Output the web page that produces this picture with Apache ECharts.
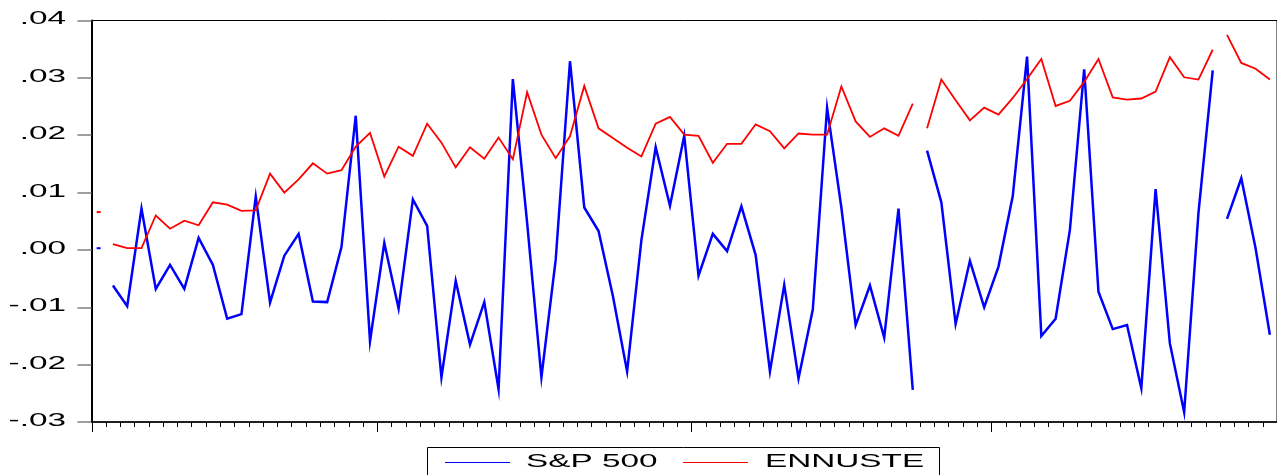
<!DOCTYPE html>
<html>
<head>
<meta charset="utf-8">
<script src="https://cdn.jsdelivr.net/npm/echarts@6/dist/echarts.min.js"></script>
<style>
  html, body { margin: 0; padding: 0; background: #ffffff; }
  #chart { width: 1277px; height: 475px; }
</style>
</head>
<body>
<div id="chart"></div>
<script>
// Observation index (the axis carries no labels, only tick marks)
const categories = Array.from({ length: 83 }, (_, i) => String(i + 1));

// S&P 500 returns
const sp500 = [
  0.0003, -0.0062, -0.0098, 0.0072, -0.0068, -0.0026, -0.0068, 0.0021, -0.0026, -0.0120,
  -0.0112, 0.0093, -0.0092, -0.0010, 0.0028, -0.0090, -0.0091, 0.0005, 0.0234, -0.0159,
  0.0012, -0.0102, 0.0088, 0.0042, -0.0222, -0.0054, -0.0165, -0.0091, -0.0243, 0.0298,
  0.0047, -0.0222, -0.0017, 0.0329, 0.0074, 0.0033, -0.0080, -0.0212, 0.0017, 0.0179,
  0.0077, 0.0199, -0.0045, 0.0028, -0.0002, 0.0076, -0.0009, -0.0212, -0.0061, -0.0224,
  -0.0104, 0.0248, 0.0074, -0.0131, -0.0062, -0.0153, 0.0072, -0.0244, 0.0173, 0.0083,
  -0.0129, -0.0019, -0.0100, -0.0029, 0.0094, 0.0337, -0.0150, -0.0120, 0.0035, 0.0315,
  -0.0073, -0.0138, -0.0131, -0.0241, 0.0106, -0.0163, -0.0283, 0.0064, 0.0313, 0.0054,
  0.0125, 0.0003, -0.0148
];

// Forecast (ENNUSTE)
const ennuste = [
  0.0066, 0.0010, 0.0003, 0.0003, 0.0060, 0.0037, 0.0051, 0.0043, 0.0083, 0.0079,
  0.0068, 0.0069, 0.0133, 0.0100, 0.0123, 0.0151, 0.0133, 0.0139, 0.0180, 0.0204,
  0.0128, 0.0180, 0.0164, 0.0220, 0.0187, 0.0144, 0.0179, 0.0159, 0.0196, 0.0158,
  0.0275, 0.0201, 0.0160, 0.0198, 0.0286, 0.0212, 0.0195, 0.0178, 0.0163, 0.0220,
  0.0232, 0.0201, 0.0199, 0.0152, 0.0185, 0.0185, 0.0219, 0.0207, 0.0177, 0.0203,
  0.0201, 0.0201, 0.0285, 0.0224, 0.0197, 0.0212, 0.0199, 0.0255, 0.0212, 0.0297,
  0.0261, 0.0226, 0.0248, 0.0236, 0.0265, 0.0298, 0.0333, 0.0251, 0.0260, 0.0293,
  0.0333, 0.0266, 0.0262, 0.0264, 0.0276, 0.0336, 0.0301, 0.0297, 0.0349, 0.0375,
  0.0326, 0.0316, 0.0297
];

// The sample is split into separate runs; lines are not joined across runs
const segmentStarts = [0, 1, 58, 79];

// Observations whose left boundary gets a long tick on the time axis
const majorTicks = [0, 20, 42, 63];

// Value axis ticks and their labels
const yTickValues = [0.04, 0.03, 0.02, 0.01, 0.00, -0.01, -0.02, -0.03];
const yTickLabels = ['.04', '.03', '.02', '.01', '.00', '-.01', '-.02', '-.03'];

const seriesNames = ['S&P 500', 'ENNUSTE'];
const seriesColors = ['#0000ff', '#ff0000'];

const LABEL_FONT = '18px "Liberation Sans", Arial, sans-serif';
const STRETCH = 1.85;

function segmentSeries(name, values, color, width, z) {
  return segmentStarts.map((start, k) => {
    const end = k + 1 < segmentStarts.length ? segmentStarts[k + 1] : values.length;
    const single = end - start === 1;
    return {
      name: name,
      type: 'line',
      data: values.map((v, i) => (i >= start && i < end ? v : null)),
      connectNulls: false,
      showSymbol: single,
      showAllSymbol: true,
      symbol: 'rect',
      symbolSize: [4, 2],
      itemStyle: { color: color },
      lineStyle: { color: color, width: width, join: 'miter' },
      silent: true,
      animation: false,
      z: z
    };
  });
}

const chart = echarts.init(document.getElementById('chart'), null, { renderer: 'canvas' });

const option = {
  backgroundColor: '#ffffff',
  animation: false,
  grid: {
    left: 91.5,
    top: 20.5,
    width: 1187,
    height: 401.5,
    show: true,
    borderColor: '#000000',
    borderWidth: 1,
    backgroundColor: 'transparent'
  },
  xAxis: {
    type: 'category',
    data: categories,
    boundaryGap: true,
    position: 'bottom',
    axisLine: { show: true, onZero: false, lineStyle: { color: '#000000', width: 1.5 } },
    axisTick: { show: false },
    axisLabel: { show: false },
    splitLine: { show: false }
  },
  yAxis: {
    type: 'value',
    min: -0.03,
    max: 0.04,
    interval: 0.01,
    axisLine: { show: true, onZero: false, lineStyle: { color: '#000000', width: 2 } },
    axisTick: { show: true, length: 14, lineStyle: { color: '#808080', width: 1.5 } },
    axisLabel: { show: false },
    splitLine: { show: false }
  },
  series: [
    ...segmentSeries(seriesNames[0], sp500, seriesColors[0], 2.5, 2),
    ...segmentSeries(seriesNames[1], ennuste, seriesColors[1], 1.8, 3)
  ]
};

chart.setOption(option);

// Pixel position of the boundary on the left of category i, taken from the axis scale
const step = chart.convertToPixel({ xAxisIndex: 0 }, 1) - chart.convertToPixel({ xAxisIndex: 0 }, 0);
function leftBoundary(i) {
  return chart.convertToPixel({ xAxisIndex: 0 }, 0) + (i - 0.5) * step;
}
const axisBottom = chart.convertToPixel({ yAxisIndex: 0 }, -0.03);

// Time axis ticks: a short tick at every boundary, a longer one at the marked observations
const tickGraphics = [];
for (let i = 0; i <= categories.length; i++) {
  const x = Math.round(leftBoundary(i)) + 0.5;
  const len = majorTicks.includes(i) ? 10 : 5;
  tickGraphics.push({
    type: 'line',
    silent: true,
    shape: { x1: x, y1: axisBottom, x2: x, y2: axisBottom + len },
    style: { stroke: '#000000', lineWidth: 1 }
  });
}

// Axis labels and legend are drawn as stretched text, placed from the axis scale
const labelGraphics = yTickValues.map((v, k) => ({
  type: 'text',
  x: 66,
  y: chart.convertToPixel({ yAxisIndex: 0 }, v) - 1,
  scaleX: STRETCH,
  silent: true,
  style: {
    text: yTickLabels[k],
    fill: '#000000',
    font: LABEL_FONT,
    align: 'right',
    verticalAlign: 'middle'
  }
}));

const legendGraphics = [
  {
    type: 'rect',
    shape: { x: 427.5, y: 447.5, width: 512, height: 40 },
    style: { fill: '#ffffff', stroke: '#000000', lineWidth: 1 },
    silent: true
  },
  {
    type: 'line',
    shape: { x1: 445, y1: 462.5, x2: 510, y2: 462.5 },
    style: { stroke: seriesColors[0], lineWidth: 1 },
    silent: true
  },
  {
    type: 'text',
    x: 526,
    y: 462,
    scaleX: STRETCH,
    silent: true,
    style: { text: seriesNames[0], fill: '#000000', font: LABEL_FONT, align: 'left', verticalAlign: 'middle' }
  },
  {
    type: 'line',
    shape: { x1: 683, y1: 462.5, x2: 748, y2: 462.5 },
    style: { stroke: seriesColors[1], lineWidth: 1 },
    silent: true
  },
  {
    type: 'text',
    x: 765,
    y: 462,
    scaleX: STRETCH,
    silent: true,
    style: { text: seriesNames[1], fill: '#000000', font: LABEL_FONT, align: 'left', verticalAlign: 'middle' }
  }
];

chart.setOption({ graphic: tickGraphics.concat(labelGraphics, legendGraphics) });
</script>
</body>
</html>
